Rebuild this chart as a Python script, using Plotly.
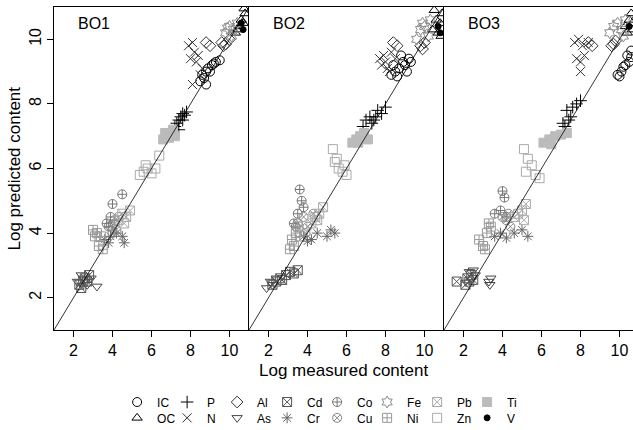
import plotly.graph_objects as go

panels = ["BO1", "BO2", "BO3"]
x_ticks = [2, 4, 6, 8, 10]
y_ticks = [2, 4, 6, 8, 10]
diag = [1, 11]

# measured (x) and predicted (y) per element, one list per panel [BO1, BO2, BO3]
IC_x = [[8.5, 8.7, 8.8, 8.9, 9.0, 9.1, 8.6, 9.3, 8.8, 9.5, 9.2],
        [8.3, 8.5, 8.7, 8.9, 9.0, 9.2, 8.6, 8.8, 9.3, 8.4, 9.1],
        [9.9, 10.1, 10.3, 10.5, 10.6, 10.2, 10.0, 10.4, 10.6]]
IC_y = [[8.7, 8.8, 9.0, 9.1, 9.0, 9.2, 8.9, 9.3, 8.6, 9.35, 9.25],
        [8.9, 9.0, 9.1, 9.3, 9.2, 9.4, 8.85, 9.5, 9.3, 9.2, 9.0],
        [8.9, 9.0, 9.2, 9.3, 9.45, 9.15, 8.85, 9.5, 9.65]]
OC_x = [[10.3, 10.5, 10.6, 10.7, 10.8, 10.4, 10.75],
        [10.4, 10.6, 10.7, 10.8, 10.9, 10.5, 10.85],
        [10.3, 10.5, 10.6, 10.4, 10.65]]
OC_y = [[10.2, 10.4, 10.6, 10.5, 10.8, 10.3, 10.95],
        [10.3, 10.6, 10.2, 10.5, 10.8, 10.9, 10.1],
        [10.4, 10.6, 10.8, 10.2, 10.3]]
P_x = [[7.2, 7.3, 7.4, 7.5, 7.6, 7.7, 7.8, 7.4, 7.6],
       [6.85, 7.0, 7.2, 7.3, 7.5, 7.6, 7.8, 7.4, 8.0],
       [7.1, 7.2, 7.3, 7.5, 7.6, 7.8, 8.0, 7.4]]
P_y = [[7.3, 7.4, 7.5, 7.6, 7.7, 7.65, 7.75, 7.2, 7.5],
       [7.3, 7.5, 7.6, 7.4, 7.6, 7.8, 7.7, 7.5, 7.9],
       [7.4, 7.3, 7.8, 7.6, 7.9, 8.0, 8.1, 7.5]]
N_x = [[7.9, 8.1, 8.2, 8.4, 8.3, 8.0, 8.6, 8.5, 8.1],
       [7.7, 7.9, 8.0, 8.1, 8.3, 8.2, 8.5, 7.8],
       [7.7, 7.9, 8.1, 7.8, 8.0, 8.2, 8.0, 8.4]]
N_y = [[9.8, 9.9, 9.6, 9.5, 9.3, 9.4, 9.1, 8.9, 8.6],
       [9.4, 9.5, 9.3, 9.1, 9.6, 9.0, 9.4, 9.2],
       [9.9, 10.0, 9.8, 9.4, 9.3, 9.5, 9.0, 9.9]]
Al_x = [[8.8, 9.0, 9.6, 9.8, 10.0, 9.7],
        [8.4, 8.6, 9.8, 10.0, 9.9],
        [8.4, 8.6, 9.6, 9.8, 9.7]]
Al_y = [[9.9, 9.8, 9.9, 9.85, 10.0, 9.8],
        [9.9, 9.8, 9.8, 9.9, 9.7],
        [9.9, 9.8, 9.8, 9.95, 9.85]]
As_x = [[2.2, 2.5, 2.7, 3.2, 2.4, 2.9],
        [1.9, 2.1, 2.4, 2.2],
        [2.3, 2.5, 2.6, 3.3, 3.4, 3.35]]
As_y = [[2.5, 2.6, 2.4, 2.35, 2.7, 2.6],
        [2.3, 2.5, 2.6, 2.4],
        [2.8, 2.85, 2.7, 2.5, 2.6, 2.4]]
Cd_x = [[2.3, 2.5, 2.6, 2.8, 2.4, 2.7],
        [2.2, 2.4, 2.6, 2.9, 3.1, 3.3, 3.5, 2.7],
        [1.65, 2.1, 2.2, 2.3, 2.4, 2.5]]
Cd_y = [[2.4, 2.5, 2.6, 2.7, 2.3, 2.5],
        [2.4, 2.5, 2.6, 2.7, 2.8, 2.75, 2.85, 2.55],
        [2.5, 2.4, 2.6, 2.5, 2.7, 2.55]]
Cr_x = [[3.6, 3.9, 4.2, 4.5, 4.6, 3.8],
        [3.8, 4.2, 4.5, 5.0, 5.2, 5.4, 4.0],
        [3.6, 3.9, 4.2, 4.6, 5.0, 5.3]]
Cr_y = [[3.8, 3.9, 4.0, 3.9, 3.7, 3.7],
        [3.9, 3.8, 4.0, 3.9, 4.1, 4.0, 3.75],
        [3.9, 4.0, 3.85, 4.0, 4.1, 3.9]]
Co_x = [[3.7, 3.9, 4.0, 4.1, 3.8, 4.5],
        [3.3, 3.5, 3.6, 3.8, 3.4, 3.7],
        [3.6, 3.9, 4.0, 4.2, 4.1]]
Co_y = [[4.3, 4.5, 4.9, 4.4, 4.2, 5.2],
        [4.3, 4.6, 5.35, 4.8, 4.2, 5.0],
        [4.6, 4.7, 5.3, 4.5, 5.1]]
Cu_x = [[3.9, 4.1, 4.3, 4.2, 4.0],
        [3.5, 3.8, 4.0, 4.3, 3.9],
        [4.0, 4.2, 4.4, 4.3]]
Cu_y = [[4.2, 4.3, 4.5, 4.1, 4.0],
        [4.3, 4.5, 4.2, 4.6, 4.0],
        [4.5, 4.4, 4.2, 4.6]]
Fe_x = [[9.8, 10.0, 10.2, 10.4, 10.1, 9.9],
        [9.6, 9.8, 10.0, 10.2, 9.9, 10.3],
        [9.5, 9.7, 9.9, 10.1, 10.3, 10.2]]
Fe_y = [[10.2, 10.4, 10.3, 10.5, 10.1, 10.35],
        [10.0, 10.3, 10.4, 10.1, 10.5, 10.6],
        [10.2, 10.4, 10.5, 10.3, 10.6, 10.1]]
Ni_x = [[3.0, 3.2, 3.4, 3.5, 3.3, 3.1],
        [3.1, 3.2, 3.4, 3.5, 3.3, 3.6],
        [2.8, 3.0, 3.2, 3.3, 3.1, 3.4]]
Ni_y = [[4.1, 4.0, 3.9, 3.5, 3.6, 3.9],
        [3.5, 3.8, 4.0, 4.2, 3.6, 3.9],
        [3.8, 3.6, 4.0, 4.3, 3.5, 4.2]]
Pb_x = [[4.3, 4.5, 4.7, 4.9, 4.6],
        [4.2, 4.4, 4.6, 4.8, 4.5],
        [4.6, 4.8, 5.0, 5.2, 5.1]]
Pb_y = [[4.4, 4.6, 4.5, 4.7, 4.3],
        [4.3, 4.5, 4.6, 4.8, 4.4],
        [4.5, 4.6, 4.7, 4.9, 4.4]]
Zn_x = [[5.4, 5.6, 5.8, 6.0, 6.2, 5.7, 6.4],
        [5.3, 5.5, 5.6, 5.8, 6.0, 5.4, 5.9],
        [5.1, 5.3, 5.5, 5.7, 5.9, 5.2]]
Zn_y = [[5.8, 5.9, 6.0, 5.85, 6.0, 6.1, 6.4],
        [6.6, 6.3, 6.0, 5.9, 5.8, 6.2, 6.1],
        [6.6, 6.3, 6.1, 5.8, 5.7, 5.9]]
Ti_x = [[6.6, 6.8, 7.0, 7.1, 7.2, 6.7, 6.9],
        [6.3, 6.5, 6.7, 6.9, 7.1, 6.6],
        [6.1, 6.4, 6.7, 7.0, 7.3, 6.5]]
Ti_y = [[6.9, 7.0, 7.1, 7.2, 7.0, 7.1, 6.95],
        [6.8, 6.9, 7.0, 7.1, 6.9, 6.8],
        [6.8, 6.9, 7.0, 7.05, 7.1, 6.75]]
V_x = [[10.6, 10.7],
       [10.7, 10.8],
       [10.5]]
V_y = [[10.5, 10.3],
       [10.4, 10.2],
       [10.4]]

elements = [
    # name, x, y, symbol, color, size, legend row
    ("IC", IC_x, IC_y, "circle-open", "#000000", 9, 1),
    ("OC", OC_x, OC_y, "triangle-up-open", "#000000", 9, 2),
    ("P", P_x, P_y, "cross-thin-open", "#000000", 9, 1),
    ("N", N_x, N_y, "x-thin-open", "#333333", 9, 2),
    ("Al", Al_x, Al_y, "diamond-open", "#333333", 9, 1),
    ("As", As_x, As_y, "triangle-down-open", "#444444", 9, 2),
    ("Cd", Cd_x, Cd_y, "square-x-open", "#555555", 9, 1),
    ("Cr", Cr_x, Cr_y, "asterisk-open", "#666666", 9, 2),
    ("Co", Co_x, Co_y, "circle-cross-open", "#777777", 9, 1),
    ("Cu", Cu_x, Cu_y, "circle-x-open", "#888888", 9, 2),
    ("Fe", Fe_x, Fe_y, "hexagram-open", "#8c8c8c", 9, 1),
    ("Ni", Ni_x, Ni_y, "square-cross-open", "#999999", 9, 2),
    ("Pb", Pb_x, Pb_y, "square-x-open", "#aaaaaa", 9, 1),
    ("Zn", Zn_x, Zn_y, "square-open", "#aaaaaa", 9, 2),
    ("Ti", Ti_x, Ti_y, "square", "#bbbbbb", 9, 1),
    ("V", V_x, V_y, "circle", "#000000", 6, 2),
]

FONT = "Liberation Sans, Arial, sans-serif"
fig = go.Figure()
names = [e[0] for e in elements]

for name, xs, ys, sym, col, sz, row in elements:
    for p in range(3):
        sfx = "" if p == 0 else str(p + 1)
        fig.add_trace(go.Scatter(
            x=xs[p], y=ys[p], mode="markers", name=name,
            legendgroup=name, showlegend=(p == 0),
            legend="legend" if row == 1 else "legend2",
            legendrank=names.index(name),
            marker=dict(symbol=sym, size=sz, color=col,
                        line=dict(color=col, width=1)),
            xaxis="x" + sfx, yaxis="y" + sfx,
        ))

for p in range(3):
    sfx = "" if p == 0 else str(p + 1)
    fig.add_trace(go.Scatter(x=diag, y=diag, mode="lines", showlegend=False,
                             line=dict(color="black", width=0.8),
                             xaxis="x" + sfx, yaxis="y" + sfx, hoverinfo="skip"))

px_per_unit = 19.5
plot_w = 579
w1 = 10 * px_per_unit
d1 = w1 / plot_w
d2 = 2 * w1 / plot_w
x3_max = 1 + (plot_w - 2 * w1) / px_per_unit

axis_common = dict(showgrid=False, zeroline=False, showline=True, linecolor="black",
                   linewidth=1, ticks="outside", ticklen=6, tickcolor="black",
                   automargin=False,
                   tickfont=dict(family=FONT, size=16, color="black"))

leg_common = dict(orientation="h", xanchor="left", yanchor="middle",
                  font=dict(family=FONT, size=12, color="black"), entrywidth=5,
                  itemsizing="trace", bgcolor="rgba(0,0,0,0)")

layout = dict(
    template="none",
    width=633, height=430,
    margin=dict(l=54, r=0, t=7, b=100, autoexpand=False),
    paper_bgcolor="white", plot_bgcolor="white",
    font=dict(family=FONT, color="black"),
    xaxis=dict(domain=[0, d1], range=[1, 11], tickvals=x_ticks, mirror=True, anchor="y", **axis_common),
    xaxis2=dict(domain=[d1, d2], range=[1, 11], tickvals=x_ticks, mirror=True, anchor="y2", **axis_common),
    xaxis3=dict(domain=[d2, 1], range=[1, x3_max], tickvals=x_ticks, mirror=True, anchor="y3", **axis_common),
    yaxis=dict(domain=[0, 1], range=[1, 11], tickvals=y_ticks, tickangle=-90, mirror=False, anchor="x", **axis_common),
    yaxis2=dict(domain=[0, 1], range=[1, 11], tickvals=y_ticks, mirror=False, anchor="x2",
                **{**axis_common, "ticks": "", "showticklabels": False}),
    yaxis3=dict(domain=[0, 1], range=[1, 11], tickvals=y_ticks, mirror=False, anchor="x3",
                **{**axis_common, "ticks": "", "showticklabels": False}),
    legend=dict(x=0.109, y=-0.223, **leg_common),
    legend2=dict(x=0.109, y=-0.272, **leg_common),
    showlegend=True,
)
fig.update_layout(**layout)

for p, lab in enumerate(panels):
    sfx = "" if p == 0 else str(p + 1)
    fig.add_annotation(x=3.05, y=10.48, xref="x" + sfx, yref="y" + sfx, text=lab,
                       showarrow=False, font=dict(family=FONT, size=16, color="black"))

fig.add_annotation(x=0.5, y=-0.124, xref="paper", yref="paper", text="Log measured content",
                   showarrow=False, xanchor="center", yanchor="middle",
                   font=dict(family=FONT, size=17, color="black"))
fig.add_annotation(x=-0.0674, y=0.5, xref="paper", yref="paper", text="Log predicted content",
                   showarrow=False, textangle=-90, xanchor="center", yanchor="middle",
                   font=dict(family=FONT, size=17, color="black"))

fig.write_html("out.html", config={"displayModeBar": False},
               post_script="document.body.style.margin='0';document.body.style.overflow='hidden';")
